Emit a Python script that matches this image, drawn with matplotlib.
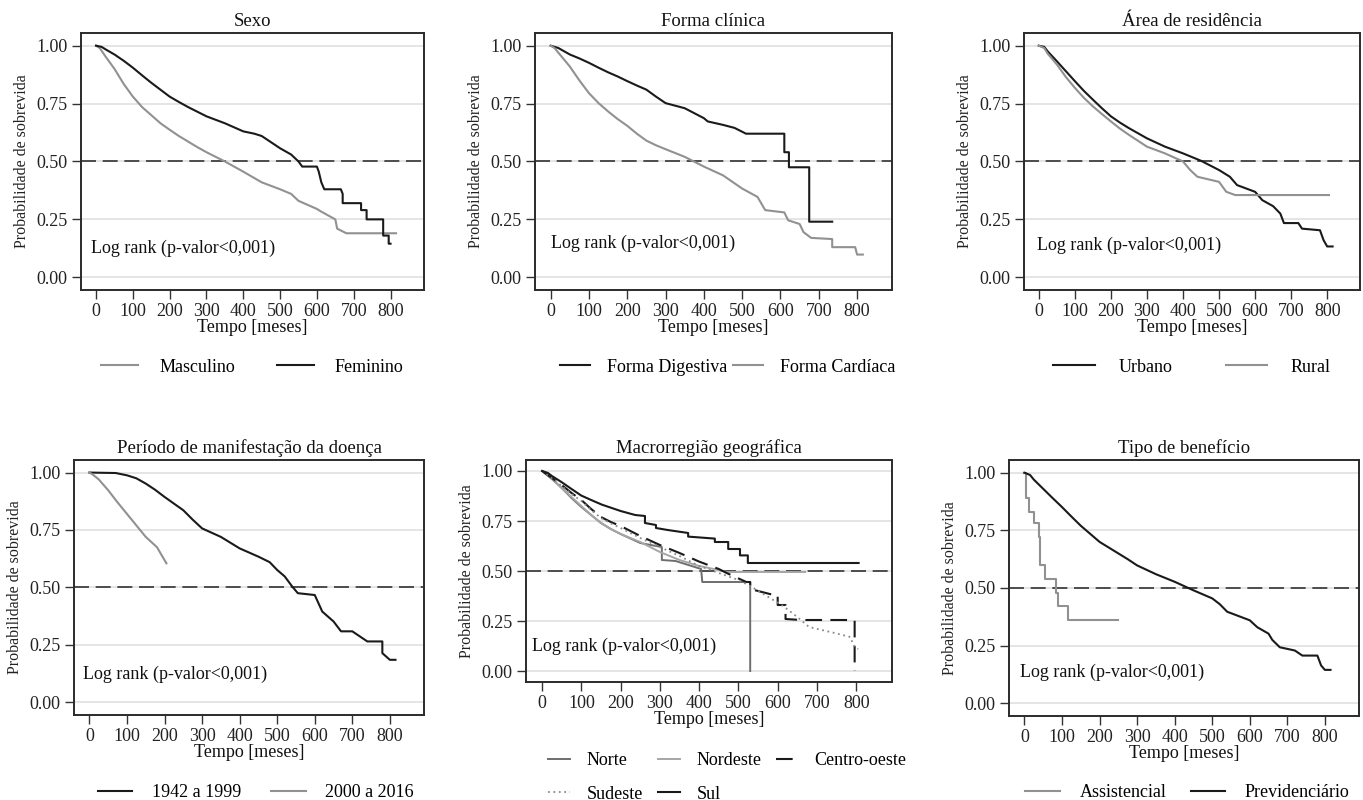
import matplotlib
matplotlib.use("Agg")
import matplotlib.pyplot as plt

plt.rcParams['font.family'] = ['Liberation Serif', 'DejaVu Serif']

# Sexo
masc_t = [0, 10, 25, 50, 75, 100, 125, 150, 175, 200, 225, 250, 275, 300, 350, 400, 450, 500, 530, 550, 600, 610, 650, 655, 680, 815]
masc_s = [1.0, 0.99, 0.955, 0.9, 0.835, 0.78, 0.735, 0.70, 0.665, 0.637, 0.61, 0.586, 0.562, 0.54, 0.50, 0.456, 0.41, 0.38, 0.36, 0.33,
          0.295, 0.285, 0.25, 0.21, 0.19, 0.19]
fem_t = [0, 15, 25, 50, 75, 100, 125, 150, 175, 200, 225, 250, 275, 300, 350, 400, 430, 450, 500, 530, 550, 560, 600, 605, 612, 620,
         665, 670, 670, 720, 720, 735, 735, 780, 780, 795, 795, 800]
fem_s = [1.0, 0.995, 0.985, 0.962, 0.935, 0.905, 0.872, 0.84, 0.81, 0.78, 0.757, 0.735, 0.715, 0.695, 0.665, 0.63, 0.62, 0.61, 0.557,
         0.53, 0.50, 0.478, 0.478, 0.456, 0.41, 0.38, 0.38, 0.36, 0.32, 0.32, 0.29, 0.29, 0.25, 0.25, 0.18, 0.18, 0.145, 0.145]

# Forma clinica
dig_t = [0, 20, 50, 75, 100, 125, 150, 175, 200, 225, 250, 275, 300, 350, 400, 410, 450, 480, 510, 610, 610, 622, 622, 675, 675, 735]
dig_s = [1.0, 0.99, 0.962, 0.945, 0.926, 0.905, 0.885, 0.867, 0.847, 0.828, 0.81, 0.78, 0.752, 0.73, 0.687, 0.673, 0.658, 0.645,
         0.62, 0.62, 0.54, 0.54, 0.475, 0.475, 0.24, 0.24]
car_t = [0, 10, 25, 50, 75, 100, 125, 150, 175, 200, 225, 250, 275, 300, 350, 400, 450, 500, 540, 560, 610, 620, 650, 660, 680,
         735, 735, 795, 800, 815]
car_s = [1.0, 0.99, 0.96, 0.91, 0.85, 0.795, 0.752, 0.716, 0.683, 0.654, 0.62, 0.59, 0.57, 0.553, 0.52, 0.478, 0.44, 0.383, 0.347,
         0.29, 0.28, 0.246, 0.23, 0.195, 0.17, 0.165, 0.13, 0.13, 0.098, 0.098]

# Area de residencia
urb_t = [0, 15, 25, 50, 75, 100, 125, 150, 175, 200, 225, 250, 300, 350, 400, 450, 500, 530, 550, 600, 620, 650, 670, 680, 720,
         730, 780, 790, 800, 815]
urb_s = [1.0, 0.995, 0.975, 0.933, 0.89, 0.847, 0.805, 0.767, 0.73, 0.695, 0.668, 0.644, 0.60, 0.564, 0.535, 0.503, 0.463, 0.434,
         0.398, 0.369, 0.333, 0.307, 0.275, 0.234, 0.234, 0.21, 0.203, 0.16, 0.133, 0.133]
rur_t = [0, 15, 25, 50, 75, 100, 125, 150, 175, 200, 225, 250, 300, 350, 400, 420, 440, 500, 520, 545, 805]
rur_s = [1.0, 0.99, 0.965, 0.919, 0.865, 0.818, 0.775, 0.738, 0.705, 0.673, 0.642, 0.615, 0.564, 0.535, 0.50, 0.463, 0.434, 0.412,
         0.369, 0.355, 0.355]

# Periodo de manifestacao
p1_t = [0, 70, 100, 125, 150, 175, 200, 225, 250, 275, 300, 350, 400, 450, 480, 500, 520, 540, 555, 600, 620, 650, 670, 700, 720,
        740, 780, 780, 800, 815]
p1_s = [1.0, 0.998, 0.988, 0.975, 0.952, 0.925, 0.894, 0.865, 0.836, 0.795, 0.757, 0.72, 0.67, 0.634, 0.61, 0.576, 0.548, 0.504,
        0.475, 0.467, 0.395, 0.352, 0.309, 0.309, 0.287, 0.265, 0.265, 0.214, 0.185, 0.185]
p2_t = [0, 10, 25, 50, 75, 100, 125, 150, 180, 205]
p2_s = [1.0, 0.99, 0.97, 0.923, 0.87, 0.82, 0.77, 0.72, 0.675, 0.605]

# Macrorregiao
norte_t = [0, 25, 50, 75, 100, 125, 150, 175, 200, 250, 290, 305, 305, 340, 405, 408, 530, 530]
norte_s = [1.0, 0.96, 0.915, 0.865, 0.82, 0.78, 0.74, 0.71, 0.685, 0.64, 0.625, 0.62, 0.555, 0.55, 0.51, 0.445, 0.445, 0.0]
nord_t = [0, 25, 50, 75, 100, 125, 150, 175, 200, 250, 300, 350, 400, 450, 470, 670]
nord_s = [1.0, 0.96, 0.915, 0.87, 0.825, 0.78, 0.74, 0.71, 0.685, 0.645, 0.595, 0.555, 0.525, 0.505, 0.495, 0.495]
co_t = [0, 25, 50, 75, 100, 125, 150, 175, 200, 250, 300, 350, 400, 450, 470, 520, 530, 530, 590, 600, 600, 620, 620, 660, 796, 796]
co_s = [1.0, 0.965, 0.93, 0.89, 0.855, 0.81, 0.77, 0.745, 0.725, 0.675, 0.63, 0.59, 0.547, 0.51, 0.49, 0.445, 0.445, 0.41, 0.38,
        0.38, 0.33, 0.33, 0.26, 0.255, 0.255, 0.0]
sude_t = [0, 25, 50, 75, 100, 125, 150, 175, 200, 250, 300, 350, 400, 450, 500, 530, 572, 614, 650, 680, 745, 785, 795, 805]
sude_s = [1.0, 0.965, 0.925, 0.885, 0.85, 0.805, 0.765, 0.738, 0.715, 0.665, 0.62, 0.575, 0.525, 0.49, 0.455, 0.425, 0.375, 0.325,
          0.27, 0.22, 0.19, 0.17, 0.12, 0.11]
sul_t = [0, 15, 25, 50, 75, 100, 125, 152, 200, 237, 262, 262, 290, 290, 320, 372, 372, 440, 440, 474, 474, 504, 504, 524, 524, 806]
sul_s = [1.0, 0.99, 0.975, 0.944, 0.91, 0.877, 0.855, 0.832, 0.80, 0.78, 0.775, 0.74, 0.73, 0.715, 0.705, 0.69, 0.672, 0.662,
         0.645, 0.645, 0.61, 0.61, 0.578, 0.578, 0.54, 0.54]

# Tipo de beneficio
asis_t = [0, 5, 12, 25, 38, 41, 55, 83, 90, 115, 248]
asis_s = [1.0, 0.89, 0.83, 0.78, 0.72, 0.60, 0.54, 0.48, 0.42, 0.36, 0.36]
prev_t = [0, 15, 25, 50, 75, 100, 125, 150, 175, 200, 225, 250, 275, 300, 350, 400, 450, 500, 520, 540, 600, 620, 650, 660, 680,
          720, 740, 780, 790, 800, 815]
prev_s = [1.0, 0.99, 0.97, 0.93, 0.89, 0.851, 0.81, 0.77, 0.735, 0.70, 0.675, 0.65, 0.625, 0.598, 0.56, 0.527, 0.49, 0.455, 0.43,
          0.397, 0.36, 0.33, 0.302, 0.275, 0.243, 0.229, 0.207, 0.207, 0.164, 0.145, 0.145]

titles = ["Sexo", "Forma clínica", "Área de residência",
          "Período de manifestação da doença", "Macrorregião geográfica", "Tipo de benefício"]
xticks = [0, 100, 200, 300, 400, 500, 600, 700, 800]
yticks = [0.0, 0.25, 0.5, 0.75, 1.0]

BLACK = '#1a1a1a'
GRAY = '#919191'

fig = plt.figure(figsize=(13.63, 8.0), dpi=100)
positions = [[0.0594, 0.6375, 0.2517, 0.3213],
             [0.3925, 0.6375, 0.2619, 0.3213],
             [0.7513, 0.6375, 0.2465, 0.3213],
             [0.0543, 0.1063, 0.2568, 0.3188],
             [0.3859, 0.1475, 0.2685, 0.2775],
             [0.7403, 0.1050, 0.2568, 0.3200]]
axes = [fig.add_axes(p) for p in positions]


def style(ax, title, logx):
    ax.set_xlim(-41, 891)
    ax.set_ylim(-0.055, 1.055)
    ax.set_xticks(xticks)
    ax.set_yticks(yticks)
    ax.set_yticklabels(['%.2f' % v for v in yticks])
    for v in yticks:
        ax.axhline(v, color='#e3e3e3', lw=1.3, zorder=0)
    ax.axhline(0.5, color='#333333', lw=1.2, ls=(0, (9, 4)), zorder=1)
    for sp in ax.spines.values():
        sp.set_color('#2b2b2b')
        sp.set_linewidth(1.4)
    ax.tick_params(direction='out', length=6.5, width=1.0, color='#333333',
                   labelsize=13, labelcolor='#222222', pad=3)
    ax.set_title(title, fontsize=13.5, pad=5, color='#111111')
    ax.set_xlabel('Tempo [meses]', fontsize=13, labelpad=-1, color='#111111')
    ax.set_ylabel('Probabilidade de sobrevida', fontsize=11.5, labelpad=5, color='#222222')
    ax.text(logx[0], logx[1], 'Log rank (p-valor<0,001)', fontsize=13,
            va='center', ha='left', color='#111111')


logpos = [(-14, 0.125), (0, 0.145), (-6, 0.137), (-16, 0.123), (-25, 0.124), (-11, 0.135)]
for ax, t, lp in zip(axes, titles, logpos):
    style(ax, t, lp)

lw = 1.5
# Sexo
ax = axes[0]
ax.plot(masc_t, masc_s, color=GRAY, lw=lw, label='Masculino')
ax.plot(fem_t, fem_s, color=BLACK, lw=lw, label='Feminino')
ax.legend(loc='center', bbox_to_anchor=(0.50, -0.30), ncol=2, frameon=False, fontsize=13,
          handlelength=2.05, handletextpad=1.17, columnspacing=2.3)

# Forma clinica
ax = axes[1]
ax.plot(dig_t, dig_s, color=BLACK, lw=lw, label='Forma Digestiva')
ax.plot(car_t, car_s, color=GRAY, lw=lw, label='Forma Cardíaca')
ax.legend(loc='center', bbox_to_anchor=(0.54, -0.30), ncol=2, frameon=False, fontsize=13,
          handlelength=1.67, handletextpad=0.95, columnspacing=0.3)

# Area
ax = axes[2]
ax.plot(urb_t, urb_s, color=BLACK, lw=lw, label='Urbano')
ax.plot(rur_t, rur_s, color=GRAY, lw=lw, label='Rural')
ax.legend(loc='center', bbox_to_anchor=(0.50, -0.30), ncol=2, frameon=False, fontsize=13,
          handlelength=2.3, handletextpad=1.3, columnspacing=2.95)

# Periodo
ax = axes[3]
ax.plot(p1_t, p1_s, color=BLACK, lw=lw, label='1942 a 1999')
ax.plot(p2_t, p2_s, color=GRAY, lw=lw, label='2000 a 2016')
ax.legend(loc='center', bbox_to_anchor=(0.52, -0.305), ncol=2, frameon=False, fontsize=13,
          handlelength=1.9, handletextpad=1.1, columnspacing=1.65)

# Macrorregiao
ax = axes[4]
h_norte, = ax.plot(norte_t, norte_s, color='#6e6e6e', lw=1.4, label='Norte')
h_nord, = ax.plot(nord_t, nord_s, color='#a6a6a6', lw=1.4, label='Nordeste')
h_co, = ax.plot(co_t, co_s, color=BLACK, lw=1.5, ls=(0, (8, 4)), label='Centro-oeste')
h_sude, = ax.plot(sude_t, sude_s, color='#8a8a8a', lw=1.3, ls=(0, (1, 2)), label='Sudeste')
h_sul, = ax.plot(sul_t, sul_s, color=BLACK, lw=1.5, label='Sul')
ax.legend(handles=[h_norte, h_sude, h_nord, h_sul, h_co], loc='center', bbox_to_anchor=(0.55, -0.43),
          ncol=3, frameon=False, fontsize=13, handlelength=1.25, handletextpad=0.9,
          columnspacing=0.8, labelspacing=0.9)

# Tipo de beneficio
ax = axes[5]
ax.plot(asis_t, asis_s, color=GRAY, lw=lw, drawstyle='steps-post', label='Assistencial')
ax.plot(prev_t, prev_s, color=BLACK, lw=lw, label='Previdenciário')
ax.legend(loc='center', bbox_to_anchor=(0.51, -0.30), ncol=2, frameon=False, fontsize=13,
          handlelength=1.9, handletextpad=1.1, columnspacing=1.35)

fig.savefig('out.png', dpi=100, facecolor='white')
